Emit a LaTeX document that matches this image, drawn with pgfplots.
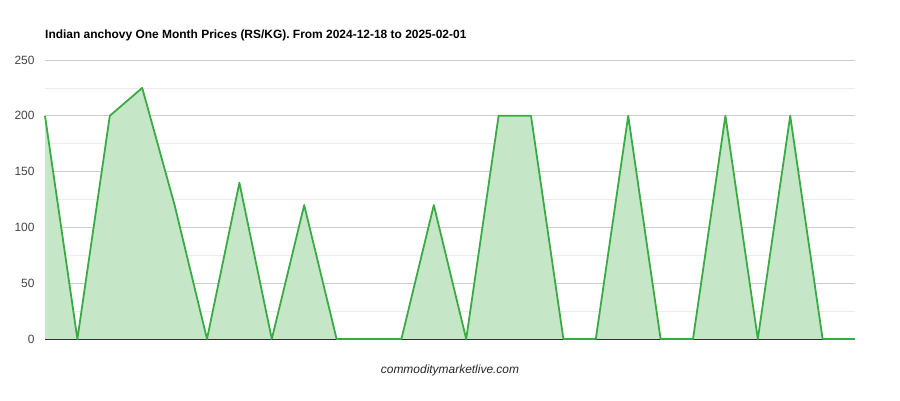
\documentclass[border=0pt]{standalone}
\usepackage{pgfplots}
\pgfplotsset{compat=1.18}
\usepackage{fontspec}
\setmainfont{Liberation Sans}
\definecolor{lineg}{HTML}{3AAA45}
\definecolor{fillg}{HTML}{C5E7C8}
\definecolor{majg}{HTML}{CCCCCC}
\definecolor{ming}{HTML}{EBEBEB}
\definecolor{tick}{HTML}{444444}

\pgfplotstableread{
x y
0 200
1 0
2 200
3 225
4 120
5 0
6 140
7 0
8 120
9 0
10 0
11 0
12 120
13 0
14 200
15 200
16 0
17 0
18 200
19 0
20 0
21 200
22 0
23 200
24 0
25 0
}\prices

\begin{document}
\begin{tikzpicture}[x=1bp,y=1bp]
\path[use as bounding box] (0,0) rectangle (900,400);
\node[anchor=west,inner sep=0pt,font=\bfseries\fontsize{12}{14}\selectfont] at (45,365) {Indian anchovy One Month Prices (RS/KG). From 2024-12-18 to 2025-02-01};
\node[font=\itshape\fontsize{12}{14}\selectfont,text=black!85] at (450,30) {commoditymarketlive.com};
\begin{axis}[
    at={(45bp,61bp)}, anchor=south west,
    scale only axis,
    width=810bp, height=279bp,
    xmin=0, xmax=25,
    ymin=0, ymax=250,
    axis line style={draw=none},
    xtick=\empty,
    ytick={0,50,...,250},
    minor ytick={25,75,...,225},
    ymajorgrids, yminorgrids,
    major grid style={majg, line width=0.8pt},
    minor grid style={ming, line width=0.8pt},
    major tick length=0pt, minor tick length=0pt,
    yticklabel style={font=\fontsize{12}{14}\selectfont, text=tick, xshift=-7bp},
    /pgf/number format/assume math mode=true,
    clip=false,
]
\addplot[draw=none, fill=fillg] table {\prices} \closedcycle;
\draw[black!80, line width=0.8pt] (axis cs:0,0) -- (axis cs:25,0);
\addplot[lineg, line width=1.8pt, line join=round] table {\prices};
\end{axis}
\end{tikzpicture}
\end{document}
